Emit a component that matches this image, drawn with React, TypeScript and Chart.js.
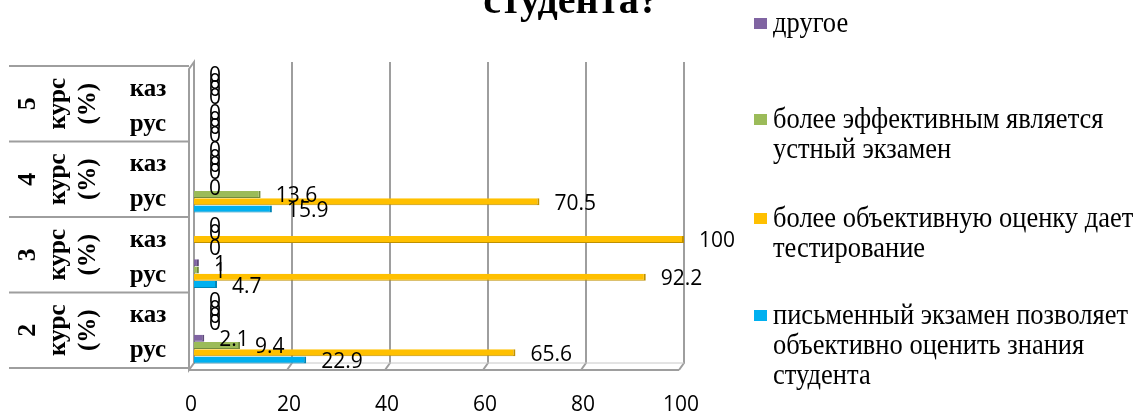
import React, { useEffect, useRef } from 'react';
import { Chart, registerables } from 'chart.js';

Chart.register(...registerables);

// ---- data (categories listed top to bottom) ----
const courses = ['5', '4', '3', '2'];
const courseUnit = ['курс', '(%)'];
const categories = ['каз', 'рус', 'каз', 'рус', 'каз', 'рус', 'каз', 'рус'];

const other = [0, 0, 0, 0, 0, 1, 0, 2.1];
const oral = [0, 0, 0, 13.6, 0, 1, 0, 9.4];
const testing = [0, 0, 0, 70.5, 100, 92.2, 0, 65.6];
const written = [0, 0, 0, 15.9, 0, 4.7, 0, 22.9];

const seriesNames = [
  'другое',
  'более эффективным является\nустный экзамен',
  'более объективную оценку дает\nтестирование',
  'письменный экзамен позволяет\nобъективно оценить знания\nстудента',
];
const seriesColors = ['#8064A2', '#9BBB59', '#FFC000', '#00B0F0'];
const seriesEdges = ['#5E4A7A', '#718A3F', '#BF9000', '#0084B4'];

const xTicks = [0, 20, 40, 60, 80, 100];
const titleText = 'студента?';

const SERIF = '"Liberation Serif", "Times New Roman", serif';
const SANS = '"Open Sans", "Noto Sans", sans-serif';
const GRID = '#9E9E9E';

const framePlugin = {
  id: 'frame3d',
  beforeDatasetsDraw(chart: any) {
    const { ctx, chartArea } = chart;
    const xs = chart.scales.x;
    const top = chartArea.top;
    const bottom = chartArea.bottom;
    const backTop = top - 4;
    const backBottom = bottom - 5;
    const frontBottom = bottom + 2;
    const dx = -5;
    const x0 = xs.getPixelForValue(xTicks[0]);
    const xMax = xs.getPixelForValue(xTicks[xTicks.length - 1]);
    ctx.save();
    ctx.strokeStyle = GRID;
    ctx.lineWidth = 2;
    // table lines on the left
    for (let k = 0; k <= courses.length; k++) {
      const y = top + (k * (bottom - top)) / courses.length;
      ctx.beginPath();
      ctx.moveTo(9, y);
      ctx.lineTo(x0 + dx, y);
      ctx.stroke();
    }
    // gridlines on back wall + floor
    xTicks.forEach((v, i) => {
      if (i === 0) return;
      const x = xs.getPixelForValue(v);
      ctx.beginPath();
      ctx.moveTo(x, backTop);
      ctx.lineTo(x, backBottom);
      ctx.lineTo(x + dx, frontBottom);
      ctx.stroke();
    });
    // floor
    ctx.beginPath();
    ctx.moveTo(x0 + dx, frontBottom);
    ctx.lineTo(xMax + dx, frontBottom);
    ctx.stroke();
    ctx.lineWidth = 1;
    ctx.strokeStyle = '#C8C8C8';
    ctx.beginPath();
    ctx.moveTo(x0, backBottom);
    ctx.lineTo(xMax, backBottom);
    ctx.stroke();
    // left wall
    ctx.lineWidth = 2;
    ctx.strokeStyle = GRID;
    ctx.beginPath();
    ctx.moveTo(x0, backTop);
    ctx.lineTo(x0, backBottom);
    ctx.lineTo(x0 + dx, frontBottom);
    ctx.lineTo(x0 + dx, backTop + 7);
    ctx.closePath();
    ctx.stroke();
    ctx.restore();
  },
  afterDraw(chart: any) {
    const { ctx, chartArea } = chart;
    const ys = chart.scales.y;
    ctx.save();
    ctx.fillStyle = '#000';
    // title (only last line visible)
    ctx.font = `bold 40px ${SERIF}`;
    ctx.textAlign = 'center';
    ctx.textBaseline = 'alphabetic';
    ctx.fillText(titleText, 571, 13);

    // category labels
    ctx.font = `bold 25px ${SERIF}`;
    categories.forEach((c, i) => {
      const y = ys.getPixelForValue(i);
      ctx.fillText(c, 148, y + (c === 'каз' ? 11 : 8));
    });
    const groupH = (chartArea.bottom - chartArea.top) / courses.length;
    courses.forEach((c, g) => {
      const cy = chartArea.top + groupH * (g + 0.5);
      const draw = (t: string, x: number, font: string) => {
        ctx.save();
        ctx.translate(x, cy);
        ctx.rotate(-Math.PI / 2);
        ctx.font = font;
        ctx.textAlign = 'center';
        ctx.textBaseline = 'alphabetic';
        ctx.fillText(t, 0, 0);
        ctx.restore();
      };
      draw(c, 35, `bold 26px ${SERIF}`);
      draw(courseUnit[0], 65, `bold 25px ${SERIF}`);
      draw(courseUnit[1], 95, `bold 25px ${SERIF}`);
    });

    // legend
    ctx.textAlign = 'left';
    ctx.font = `26.5px ${SERIF}`;
    const firstBase = [32, 128, 227, 324];
    seriesNames.forEach((name, i) => {
      const b = firstBase[i];
      ctx.fillStyle = seriesColors[i];
      ctx.fillRect(754, b - 14, 13, 11);
      ctx.fillStyle = '#000';
      name.split('\n').forEach((line, k) => {
        ctx.save();
        ctx.translate(773, b + k * 30);
        ctx.scale(1, 1.1);
        ctx.fillText(line, 0, 0);
        ctx.restore();
      });
    });
    ctx.restore();
  },
  afterDatasetsDraw(chart: any) {
    const { ctx } = chart;
    ctx.save();
    ctx.font = `21px ${SANS}`;
    ctx.fillStyle = '#000';
    ctx.textAlign = 'left';
    ctx.textBaseline = 'middle';
    chart.data.datasets.forEach((ds: any, i: number) => {
      const meta = chart.getDatasetMeta(i);
      meta.data.forEach((el: any, j: number) => {
        ctx.fillText(String(ds.data[j]), el.x + 15, el.y + 2);
      });
    });
    ctx.restore();
  },
};

export default function App() {
  const ref = useRef<HTMLCanvasElement>(null);
  useEffect(() => {
    if (!ref.current) return;
    const series = [other, oral, testing, written];
    const chart = new Chart(ref.current, {
      type: 'bar',
      data: {
        labels: categories,
        datasets: series.map((d, i) => ({
          label: seriesNames[i],
          data: d,
          backgroundColor: seriesColors[i],
          borderColor: seriesEdges[i],
          borderWidth: { top: 0, right: 2, bottom: 1, left: 0 },
          borderSkipped: false,
          barPercentage: 0.97,
          categoryPercentage: 0.77,
        })),
      },
      options: {
        indexAxis: 'y',
        responsive: false,
        animation: false,
        layout: { padding: { top: 66, left: 194, right: 1140 - 684, bottom: 0 } },
        plugins: { legend: { display: false }, title: { display: false }, tooltip: { enabled: false } },
        scales: {
          y: { display: false },
          x: {
            min: 0,
            max: 100,
            afterFit: (s: any) => {
              s.height = 44;
            },
            afterBuildTicks: (s: any) => {
              s.ticks = xTicks.map((v) => ({ value: v }));
            },
            grid: { display: false, drawTicks: false },
            border: { display: false },
            ticks: {
              font: { family: SANS, size: 21 },
              color: '#000',
              padding: 24,
              labelOffset: -3,
            },
          },
        },
      } as any,
      plugins: [framePlugin],
    });
    return () => chart.destroy();
  }, []);
  return (
    <div style={{ position: 'absolute', left: 0, top: 0, width: 1140, height: 412, background: '#fff' }}>
      <canvas ref={ref} width={1140} height={412} />
    </div>
  );
}
